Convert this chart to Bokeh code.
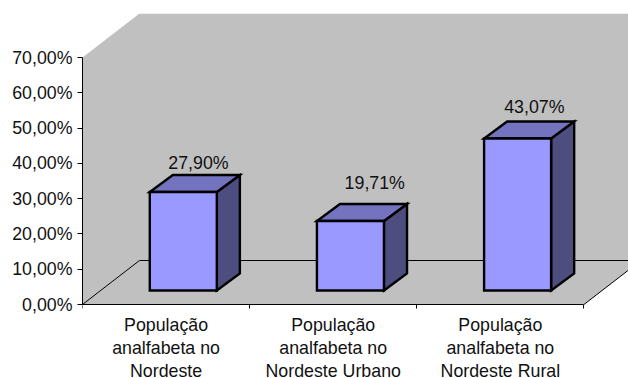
from bokeh.embed import file_html
from bokeh.models import ColumnDataSource, FixedTicker, Range1d
from bokeh.plotting import figure
from bokeh.resources import INLINE
from bokeh.core.properties import value

categories = ["População\nanalfabeta no\nNordeste",
              "População\nanalfabeta no\nNordeste Urbano",
              "População\nanalfabeta no\nNordeste Rural"]
shares = [27.90, 19.71, 43.07]
share_labels = ["27,90%", "19,71%", "43,07%"]
y_ticks = [0, 10, 20, 30, 40, 50, 60, 70]
y_tick_labels = ["0,00%", "10,00%", "20,00%", "30,00%", "40,00%", "50,00%", "60,00%", "70,00%"]

FONT = "Liberation Sans"
FONT_SIZE = "17.8px"
TEXT_COLOUR = "#111111"

# Oblique projection of the chart box, in axis units
BOX_DX, BOX_DY = 0.341, 12.47
BAR_DX, BAR_DY = 0.138, 4.82
BAR_WIDTH = 0.401
BAR_SHIFT = 0.103
BAR_BASE = 3.97
Y_MAX = 70
Y_MIN = -20.97  # room below the floor edge for the category names
X_END = 3

p = figure(width=628, height=378, output_backend="svg", toolbar_location=None,
           x_range=Range1d(0, 3.2665), y_range=Range1d(Y_MIN, Y_MAX + BOX_DY),
           min_border_left=82, min_border_right=0, min_border_top=13, min_border_bottom=0)
p.outline_line_color = None
p.background_fill_color = "white"
p.border_fill_color = "white"
p.grid.visible = False

# Walls and floor as one grey silhouette, with the floor's edges on top
p.patch([0, 0, BOX_DX, X_END + BOX_DX, X_END + BOX_DX, X_END],
        [0, Y_MAX, Y_MAX + BOX_DY, Y_MAX + BOX_DY, BOX_DY, 0],
        fill_color="#C0C0C0", line_color=None)
p.line([0, BOX_DX, X_END + BOX_DX, X_END], [0, BOX_DY, BOX_DY, 0], line_color="black", line_width=1)

# Bars: front, top and side faces
front_x, front_y, top_x, top_y, side_x, side_y = [], [], [], [], [], []
for i, v in enumerate(shares):
    l = i + 0.5 + BAR_SHIFT - BAR_WIDTH / 2
    r = l + BAR_WIDTH
    b, t = BAR_BASE, BAR_BASE + v
    front_x.append([l, r, r, l])
    front_y.append([b, b, t, t])
    top_x.append([l, r, r + BAR_DX, l + BAR_DX])
    top_y.append([t, t, t + BAR_DY, t + BAR_DY])
    side_x.append([r, r + BAR_DX, r + BAR_DX, r])
    side_y.append([b, b + BAR_DY, t + BAR_DY, t])

for xs, ys, colour in ((side_x, side_y, "#4D4D80"), (top_x, top_y, "#7373BF"), (front_x, front_y, "#9999FF")):
    p.patches(xs, ys, fill_color=colour, line_color="black", line_width=2.4, line_join="miter")

# Value labels sit above the back edge of each bar top
label_source = ColumnDataSource(dict(
    x=[i + 0.5 + BAR_SHIFT + BAR_DX / 2 for i in range(3)],
    y=[BAR_BASE + v + BAR_DY for v in shares],
    text=share_labels,
    dx=[3.6, 12.8, 5.2],
    dy=[-2, -11, -5],
))
p.text(x="x", y="y", text="text", x_offset="dx", y_offset="dy", source=label_source,
       text_align="center", text_baseline="bottom", text_color=TEXT_COLOUR,
       text_font=value(FONT), text_font_size=FONT_SIZE)

# Category axis runs along the front floor edge, inside the plot area
xaxis = p.xaxis[0]
xaxis.fixed_location = 0
xaxis.ticker = FixedTicker(ticks=[0.5, 1.5, 2.5], minor_ticks=[0, 1, 2, 3])
xaxis.major_label_overrides = {i + 0.5: c for i, c in enumerate(categories)}
xaxis.bounds = (0, X_END)
xaxis.major_tick_in = 0
xaxis.major_tick_out = 0
xaxis.minor_tick_in = 0
xaxis.minor_tick_out = 4
xaxis.minor_tick_line_color = "black"
xaxis.axis_line_color = "black"
xaxis.axis_line_width = 1
xaxis.major_label_standoff = 6
xaxis.major_label_orientation = "horizontal"
xaxis.major_label_text_font = FONT
xaxis.major_label_text_font_size = FONT_SIZE
xaxis.major_label_text_color = TEXT_COLOUR
xaxis.major_label_text_line_height = 1.17

yaxis = p.yaxis[0]
yaxis.ticker = FixedTicker(ticks=y_ticks, minor_ticks=[])
yaxis.major_label_overrides = dict(zip(y_ticks, y_tick_labels))
yaxis.bounds = (0, Y_MAX)
yaxis.major_tick_in = 0
yaxis.major_tick_out = 5
yaxis.major_tick_line_color = "black"
yaxis.axis_line_color = "black"
yaxis.axis_line_width = 1
yaxis.major_label_standoff = 5
yaxis.major_label_text_font = FONT
yaxis.major_label_text_font_size = FONT_SIZE
yaxis.major_label_text_color = TEXT_COLOUR

open("out.html", "w").write(file_html(p, INLINE))
